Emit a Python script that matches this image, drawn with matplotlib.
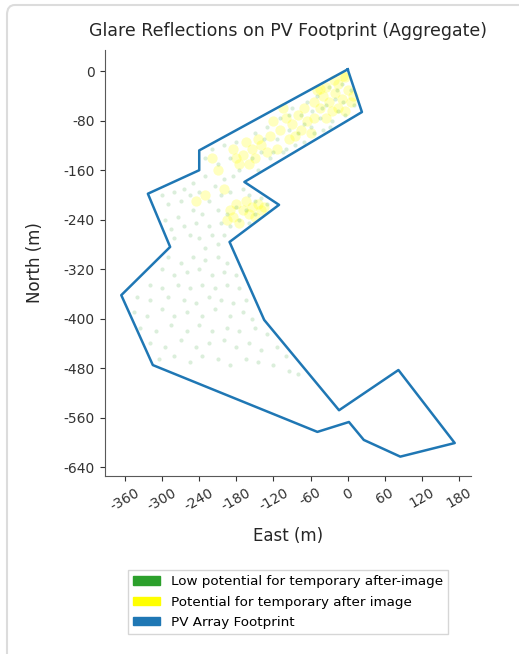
import matplotlib
matplotlib.use("Agg")
import matplotlib.pyplot as plt
from matplotlib.patches import Patch, FancyBboxPatch

# PV array footprint outline (East, North in metres)
footprint_east = [0, 23, -167, -111, -191, -135, -14, 82, 173, 85, 26, 2, -49,
                  -315, -366, -287, -323, -240, -240]
footprint_north = [3, -66, -179, -216, -276, -402, -548, -483, -601, -623, -596,
                   -567, -583, -475, -362, -284, -198, -160, -128]

# glare points: low potential for temporary after-image
green_pts = [
    (-150, -100), (-140, -130), (-130, -90), (-125, -140), (-115, -110), (-110, -75),
    (-100, -125), (-95, -95), (-90, -60), (-85, -120), (-80, -100), (-75, -70),
    (-70, -115), (-65, -50), (-60, -90), (-55, -100), (-50, -40), (-45, -75),
    (-40, -95), (-35, -55), (-30, -25), (-25, -80), (-20, -45), (-15, -65),
    (-10, -20), (-8, -50), (-5, -70), (5, -30), (10, -55), (-155, -140),
    (-145, -160), (-135, -110), (-120, -130), (-105, -130), (-95, -70), (-70, -85),
    (-58, -65), (-42, -60), (-28, -90), (-18, -30),
    (-230, -140), (-220, -125), (-210, -150), (-200, -120), (-190, -140), (-180, -115),
    (-175, -160), (-185, -170), (-200, -175), (-215, -185), (-230, -170), (-250, -180),
    (-265, -190), (-280, -195), (-300, -200), (-290, -215), (-270, -210), (-255, -200),
    (-240, -195), (-225, -210), (-205, -200), (-190, -195), (-170, -190), (-160, -200),
    (-150, -210), (-140, -205), (-130, -215), (-165, -225), (-180, -220), (-195, -230),
    (-210, -225), (-235, -230), (-250, -225), (-275, -235), (-295, -240), (-285, -255),
    (-265, -250), (-245, -245), (-225, -250), (-205, -245), (-190, -250), (-175, -240),
    (-160, -245), (-150, -230), (-255, -265), (-240, -270), (-220, -265), (-200, -265),
    (-280, -270), (-230, -285), (-210, -280),
    (-290, -300), (-270, -310), (-250, -300), (-230, -305), (-210, -300), (-195, -310),
    (-300, -320), (-280, -330), (-260, -325), (-240, -320), (-220, -330), (-200, -325),
    (-180, -330), (-320, -345), (-300, -350), (-275, -345), (-255, -350), (-235, -345),
    (-215, -350), (-195, -345), (-175, -350), (-340, -365), (-320, -370), (-290, -365),
    (-265, -370), (-245, -375), (-225, -365), (-205, -370), (-185, -375), (-165, -370),
    (-345, -390), (-325, -395), (-300, -385), (-280, -395), (-260, -390), (-235, -395),
    (-215, -385), (-190, -395), (-170, -390), (-155, -400), (-335, -415), (-310, -420),
    (-285, -410), (-260, -420), (-240, -410), (-220, -420), (-195, -415), (-175, -420),
    (-150, -415), (-130, -425), (-320, -440), (-295, -445), (-270, -435), (-245, -445),
    (-225, -440), (-200, -435), (-180, -445), (-160, -440), (-140, -450), (-115, -445),
    (-305, -465), (-280, -460), (-255, -470), (-235, -460), (-210, -465), (-190, -475),
    (-165, -465), (-145, -470), (-120, -475), (-100, -460), (-95, -485), (-80, -490),
]

# glare points: potential for temporary after-image
yellow_pts = [
    (-45, -28), (-35, -25), (-22, -15), (-15, -20), (-5, -10), (-40, -40), (-30, -50),
    (-20, -35), (-10, -45), (0, -30), (5, -50), (-15, -60), (-25, -65), (-5, -65),
    (-50, -30), (-55, -50), (-45, -60), (-35, -75), (-8, -8), (8, -40),
    (-100, -75), (-90, -85), (-80, -70), (-75, -95), (-65, -80), (-60, -100), (-70, -60),
    (-110, -95), (-120, -80), (-85, -105), (-55, -75), (-95, -110), (-125, -105), (-105, -60),
    (-145, -110), (-155, -125), (-165, -115), (-150, -140), (-170, -135), (-160, -150),
    (-140, -120), (-175, -150), (-185, -125), (-180, -140),
    (-165, -210), (-155, -220), (-145, -215), (-160, -230), (-150, -235), (-140, -225),
    (-170, -225), (-180, -215), (-190, -225), (-185, -235), (-195, -240), (-175, -245),
    (-135, -220),
    (-220, -140), (-210, -160), (-200, -190), (-230, -200), (-130, -130), (-115, -125),
    (-245, -210),
]

x_ticks = [-360, -300, -240, -180, -120, -60, 0, 60, 120, 180]
y_ticks = [0, -80, -160, -240, -320, -400, -480, -560, -640]

legend_labels = ["Low potential for temporary after-image",
                 "Potential for temporary after image",
                 "PV Array Footprint"]

plt.rcParams["axes.unicode_minus"] = False
plt.rcParams["font.family"] = "DejaVu Sans"

fig = plt.figure(figsize=(5.19, 6.54), dpi=100)

# light card border behind the chart
card = FancyBboxPatch((7 / 519, -0.1), 1.2, 1.1 - 5 / 654,
                      boxstyle="round,pad=0,rounding_size=0.015",
                      transform=fig.transFigure, facecolor="none",
                      edgecolor="#dcdcdc", linewidth=1.5, zorder=0)
fig.patches.append(card)

ax = fig.add_axes([103 / 519, 178 / 654, 370 / 519, 426 / 654])

ye, yn = zip(*yellow_pts)
ax.scatter(ye, yn, s=55, color="#ffff00", alpha=0.25, linewidths=0, zorder=2)
ge, gn = zip(*green_pts)
ax.scatter(ge, gn, s=9, color="#2ca02c", alpha=0.17, linewidths=0, zorder=3)

ax.plot(footprint_east + footprint_east[:1], footprint_north + footprint_north[:1],
        color="#1f77b4", linewidth=1.8, zorder=4)

ax.set_aspect("equal", adjustable="box")
ax.set_xticks(x_ticks)
ax.set_yticks(y_ticks)
ax.tick_params(axis="x", labelrotation=30, labelsize=10, colors="0.2")
ax.tick_params(axis="y", labelsize=10, colors="0.2")
for side in ["top", "right"]:
    ax.spines[side].set_visible(False)
for side in ["left", "bottom"]:
    ax.spines[side].set_color("0.35")

ax.set_title("Glare Reflections on PV Footprint (Aggregate)", fontsize=12.5, color="0.15", pad=10)
ax.set_xlabel("East (m)", fontsize=12, color="0.15", labelpad=10)
ax.set_ylabel("North (m)", fontsize=12, color="0.15", labelpad=14)

handles = [Patch(color="#2ca02c"), Patch(color="#ffff00"), Patch(color="#1f77b4")]
fig.legend(handles, legend_labels, loc="upper center",
           bbox_to_anchor=(288 / 519, 1 - 563 / 654), fontsize=9.7,
           frameon=True, fancybox=False, edgecolor="#cccccc",
           handlelength=2.0, handleheight=0.6, labelspacing=0.55)

fig.savefig("out.png", dpi=100)
